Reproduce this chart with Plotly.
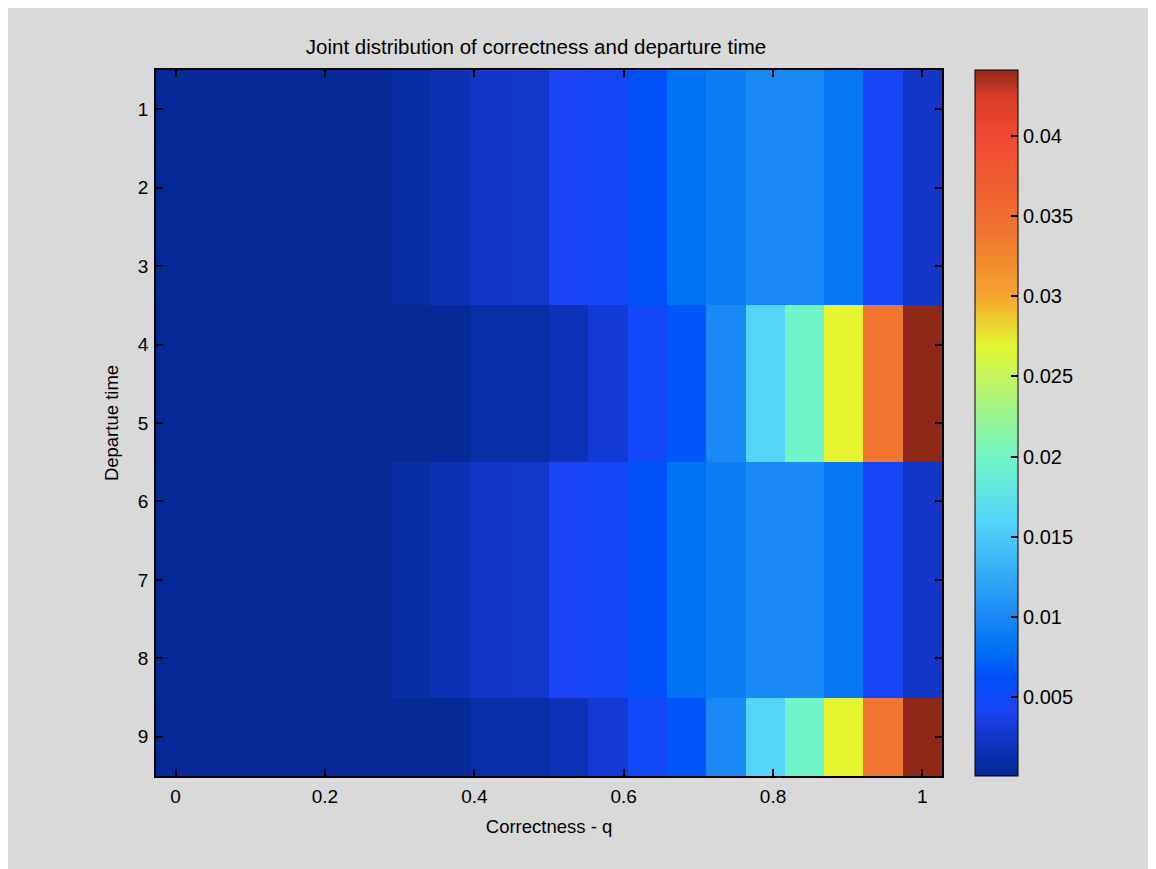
import plotly.graph_objects as go

# ---------------- data ----------------
correctness = [0.0, 0.0526, 0.1053, 0.1579, 0.2105, 0.2632, 0.3158, 0.3684,
               0.4211, 0.4737, 0.5263, 0.5789, 0.6316, 0.6842, 0.7368, 0.7895,
               0.8421, 0.8947, 0.9474, 1.0]
departure_time = [1, 2, 3, 4, 5, 6, 7, 8, 9]

row_1 = [0.0002, 0.0002, 0.0002, 0.0002, 0.0002, 0.0002, 0.0010, 0.0017, 0.0025, 0.0026,
         0.0042, 0.0046, 0.0062, 0.0080, 0.0090, 0.0100, 0.0100, 0.0085, 0.0045, 0.0025]
row_2 = [0.0002, 0.0002, 0.0002, 0.0002, 0.0002, 0.0002, 0.0010, 0.0017, 0.0025, 0.0026,
         0.0042, 0.0046, 0.0062, 0.0080, 0.0090, 0.0100, 0.0100, 0.0085, 0.0045, 0.0025]
row_3 = [0.0002, 0.0002, 0.0002, 0.0002, 0.0002, 0.0002, 0.0010, 0.0017, 0.0025, 0.0026,
         0.0042, 0.0046, 0.0062, 0.0080, 0.0090, 0.0100, 0.0100, 0.0085, 0.0045, 0.0025]
row_4 = [0.0001, 0.0001, 0.0001, 0.0001, 0.0001, 0.0001, 0.0002, 0.0002, 0.0012, 0.0012,
         0.0018, 0.0030, 0.0048, 0.0065, 0.0100, 0.0160, 0.0200, 0.0270, 0.0340, 0.0441]
row_5 = [0.0001, 0.0001, 0.0001, 0.0001, 0.0001, 0.0001, 0.0002, 0.0002, 0.0012, 0.0012,
         0.0018, 0.0030, 0.0048, 0.0065, 0.0100, 0.0160, 0.0200, 0.0270, 0.0340, 0.0441]
row_6 = [0.0002, 0.0002, 0.0002, 0.0002, 0.0002, 0.0002, 0.0010, 0.0017, 0.0025, 0.0026,
         0.0042, 0.0046, 0.0062, 0.0080, 0.0090, 0.0100, 0.0100, 0.0085, 0.0045, 0.0025]
row_7 = [0.0002, 0.0002, 0.0002, 0.0002, 0.0002, 0.0002, 0.0010, 0.0017, 0.0025, 0.0026,
         0.0042, 0.0046, 0.0062, 0.0080, 0.0090, 0.0100, 0.0100, 0.0085, 0.0045, 0.0025]
row_8 = [0.0002, 0.0002, 0.0002, 0.0002, 0.0002, 0.0002, 0.0010, 0.0017, 0.0025, 0.0026,
         0.0042, 0.0046, 0.0062, 0.0080, 0.0090, 0.0100, 0.0100, 0.0085, 0.0045, 0.0025]
row_9 = [0.0001, 0.0001, 0.0001, 0.0001, 0.0001, 0.0001, 0.0002, 0.0002, 0.0012, 0.0012,
         0.0018, 0.0030, 0.0048, 0.0065, 0.0100, 0.0160, 0.0200, 0.0270, 0.0340, 0.0441]

x_ticks = [0, 0.2, 0.4, 0.6, 0.8, 1]
x_tick_text = ["0", "0.2", "0.4", "0.6", "0.8", "1"]
cb_ticks = [0.005, 0.01, 0.015, 0.02, 0.025, 0.03, 0.035, 0.04]
cb_tick_text = ["0.005", "0.01", "0.015", "0.02", "0.025", "0.03", "0.035", "0.04"]

c_min, c_max = 0.0001, 0.0441

# colour anchors (value, colour) approximating the screenshot's jet map
anchor_vals = [0.0001, 0.0012, 0.0025, 0.0042, 0.0062, 0.0080, 0.0100, 0.0160,
               0.0200, 0.0270, 0.0300, 0.0340, 0.0400, 0.0425, 0.0441]
anchor_cols = ["rgb(6,40,150)", "rgb(10,46,168)", "rgb(18,54,200)", "rgb(26,68,245)",
               "rgb(0,80,250)", "rgb(0,112,245)", "rgb(26,136,245)", "rgb(85,213,250)",
               "rgb(112,245,200)", "rgb(229,245,48)", "rgb(245,165,45)", "rgb(240,117,48)",
               "rgb(240,72,48)", "rgb(215,60,40)", "rgb(144,40,24)"]

colorscale = [[(v - c_min) / (c_max - c_min), c] for v, c in zip(anchor_vals, anchor_cols)]

z = [row_1, row_2, row_3, row_4, row_5, row_6, row_7, row_8, row_9]

FONT = "Liberation Sans, Arial, Helvetica, sans-serif"

fig = go.Figure(go.Heatmap(
    x=correctness, y=departure_time, z=z,
    colorscale=colorscale, zmin=c_min, zmax=c_max,
    colorbar=dict(
        x=1.042, xanchor="left", xref="paper",
        y=0.5, yanchor="middle", len=1.0, lenmode="fraction",
        thickness=43, thicknessmode="pixels",
        outlinewidth=1, outlinecolor="black",
        ypad=0, xpad=0,
        ticks="inside", ticklen=7, tickcolor="black", tickwidth=1.5,
        tickvals=cb_ticks, ticktext=cb_tick_text,
        tickfont=dict(family=FONT, size=20, color="black"),
    ),
    showscale=True,
))

# left-side ticks on the colorbar (MATLAB draws ticks on both edges)
PLOT_W = 786
cb_left = 1.042
cb_tick_len = 7 / PLOT_W
shapes = []
for v in cb_ticks:
    yy = (v - c_min) / (c_max - c_min)
    shapes.append(dict(type="line", xref="paper", yref="paper",
                       x0=cb_left, x1=cb_left + cb_tick_len, y0=yy, y1=yy,
                       line=dict(color="black", width=1.5)))

fig.update_layout(
    width=1156, height=869,
    paper_bgcolor="#d9d9d9", plot_bgcolor="#d9d9d9",
    margin=dict(l=148, r=222, t=62, b=101),
    font=dict(family=FONT, size=19, color="black"),
    title=dict(text="Joint distribution of correctness and departure time",
               x=528 / 1156, xanchor="center", y=1 - 39 / 869, yanchor="middle",
               font=dict(family=FONT, size=20.5, color="black")),
    shapes=shapes,
)

fig.update_xaxes(
    range=[-0.0263, 1.0263], tickvals=x_ticks, ticktext=x_tick_text,
    ticks="inside", ticklen=7, tickwidth=1.5, tickcolor="black",
    showline=True, linecolor="black", linewidth=1.5, mirror="ticks",
    showgrid=False, zeroline=False,
    tickfont=dict(family=FONT, size=19, color="black"),
    ticklabelstandoff=2,
    title=dict(text="Correctness - q", standoff=15,
               font=dict(family=FONT, size=18.5, color="black")),
)
fig.update_yaxes(
    range=[9.5, 0.5], tickvals=departure_time,
    ticks="inside", ticklen=7, tickwidth=1.5, tickcolor="black",
    showline=True, linecolor="black", linewidth=1.5, mirror="ticks",
    showgrid=False, zeroline=False,
    tickfont=dict(family=FONT, size=19, color="black"),
    ticklabelstandoff=2,
    title=dict(text="Departue time", standoff=14,
               font=dict(family=FONT, size=18.5, color="black")),
)

fig.write_html("out.html")
